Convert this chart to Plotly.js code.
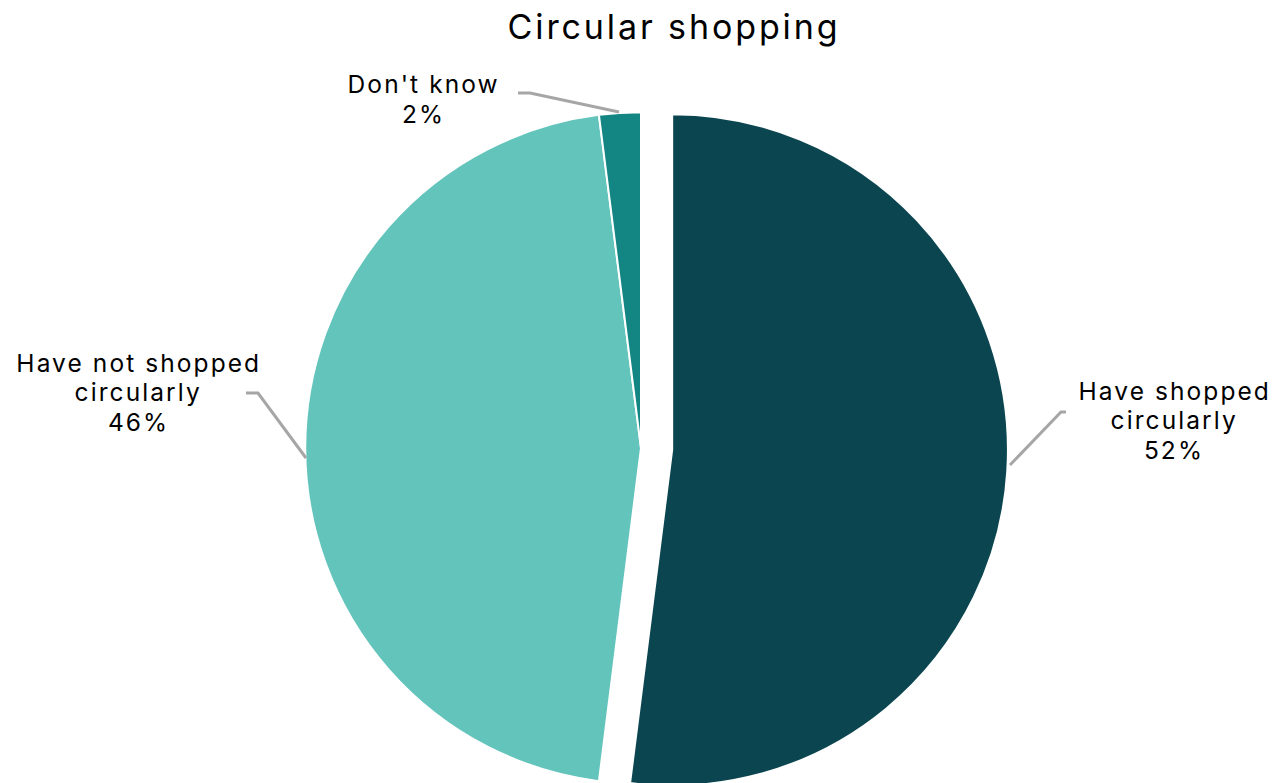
<!DOCTYPE html>
<html><head><meta charset="utf-8">
<script src="https://cdn.plot.ly/plotly-3.0.1.min.js"></script>
<style>html,body{margin:0;padding:0;overflow:hidden;width:1285px;height:783px;background:#fff}
#wrap{width:1285px;height:783px;overflow:hidden}
#chart svg text{letter-spacing:0.085em}</style></head>
<body><div id="wrap"><div id="chart" style="width:1285px;height:815px"></div></div>
<script>
const categories = ["Have shopped circularly", "Have not shopped circularly", "Don't know"];
const labelLines = [["Have shopped", "circularly"], ["Have not shopped", "circularly"], ["Don't know"]];
const values = [52, 46, 2];
const colors = ["#0B4650", "#62C4BB", "#138582"];
const pulls = [0.093, 0, 0];

const W = 1285, H = 815;
const FONT = "Inter, 'Noto Sans', sans-serif";
function px(x){ return x / W; }
function py(y){ return (H - y) / H; }
const total = values.reduce((a,b)=>a+b,0);

// label centre x and first-line centre y, line step
const labelPos = [[1174, 390.5], [138.5, 362.5], [423, 84.5]];
const lineStep = 29.6;
const leaders = [
  [[1066,412],[1061,412],[1010,465]],
  [[246,393],[258,393],[306,458]],
  [[518,93],[530,93],[619,112]]
];

const annotations = [];
categories.forEach((c,i)=>{
  const lines = labelLines[i].concat([Math.round(values[i]/total*100) + "%"]);
  lines.forEach((t,k)=>{
    annotations.push({
      text: t, x: px(labelPos[i][0]), y: py(labelPos[i][1] + k*lineStep), xref:'paper', yref:'paper',
      xanchor:'center', yanchor:'middle', showarrow:false, align:'center',
      font:{family:FONT, size:24.5, color:'#000'}
    });
  });
});
const shapes = leaders.map(pts=>({
  type:'path', xref:'paper', yref:'paper',
  path: pts.map((p,k)=>(k?'L':'M')+px(p[0])+','+py(p[1])).join(' '),
  line:{color:'#A6A6A6', width:3}
}));

const trace = {
  type:'pie', labels: categories, values: values, sort:false, direction:'clockwise', rotation:0,
  pull: pulls, textinfo:'none', hoverinfo:'label+percent',
  marker:{colors: colors, line:{color:'#ffffff', width:2}},
  domain:{x:[px(641-367), px(641+367)], y:[0, 734/H]}
};
const layout = {
  width: W, height: H, margin:{l:0,r:0,t:0,b:0}, showlegend:false,
  paper_bgcolor:'#fff',
  title:{text:'Circular shopping', font:{family:FONT, size:34, color:'#000'}, x: px(674), xanchor:'center', xref:'container', y: (H-27)/H, yanchor:'middle', yref:'container'},
  annotations: annotations, shapes: shapes
};
Plotly.newPlot('chart', [trace], layout, {staticPlot:true});
</script></body></html>
